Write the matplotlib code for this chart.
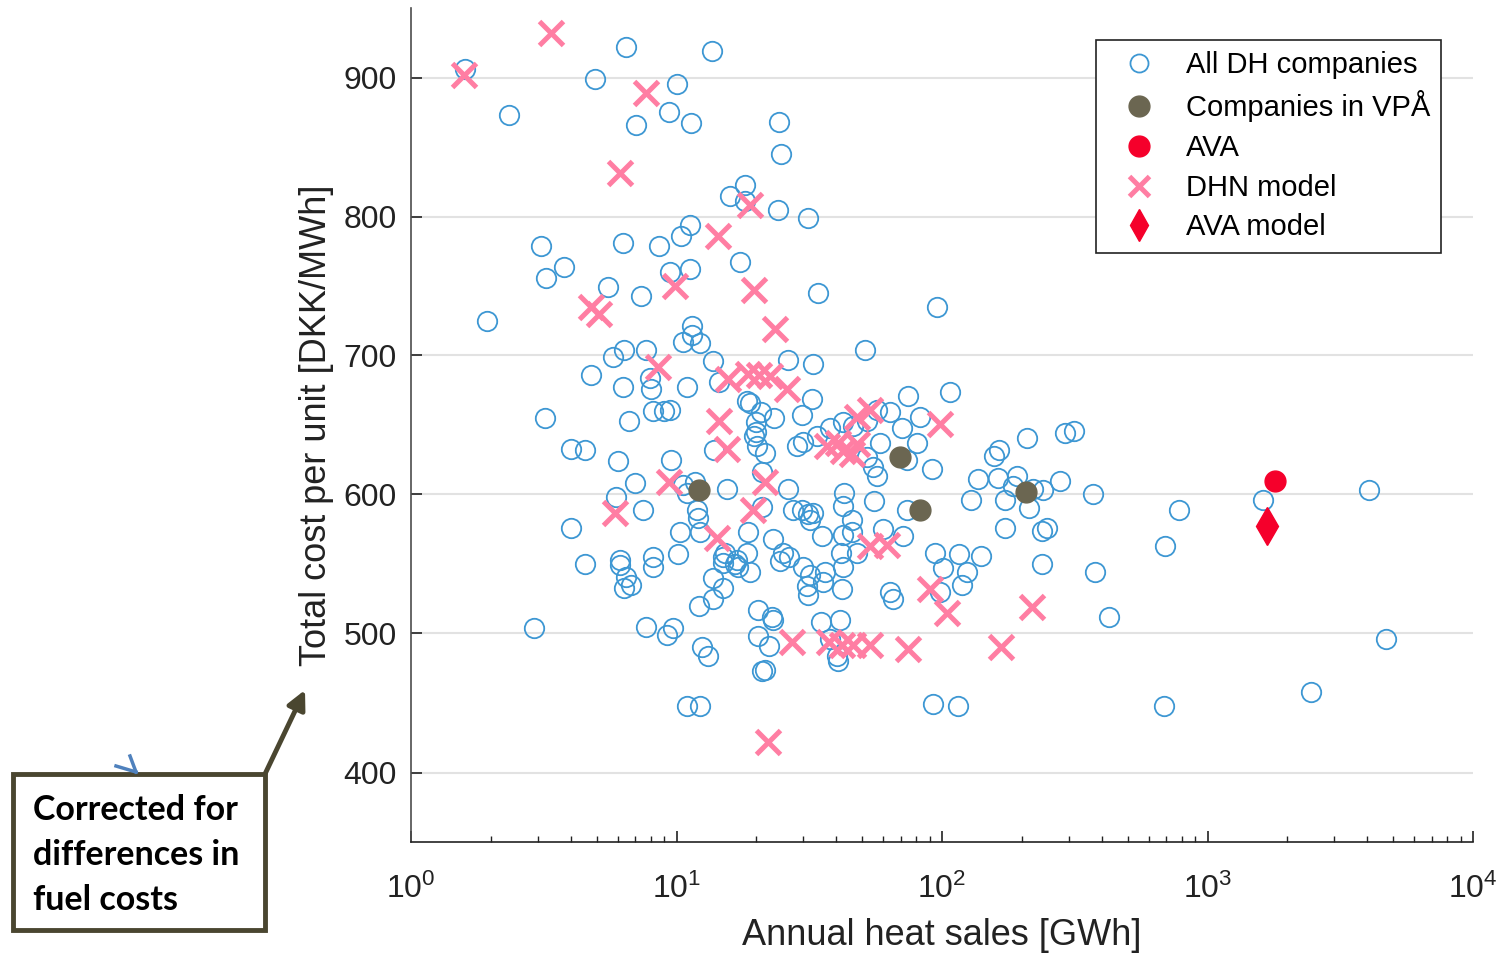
import matplotlib
matplotlib.use('Agg')
import matplotlib.pyplot as plt
from matplotlib.patches import Rectangle
from matplotlib.lines import Line2D

plt.rcParams['font.family'] = ['Liberation Sans', 'DejaVu Sans']
plt.rcParams['mathtext.default'] = 'regular'

# All DH companies: annual heat sales [GWh] and total cost per unit [DKK/MWh]
all_x = [1.60, 2.34, 4.93, 6.45, 7.03, 9.37, 10.0, 13.6, 11.3, 24.3, 24.8, 18.1, 15.9, 18.1,
         24.1, 31.3, 11.2, 10.4, 17.3, 11.2, 9.45, 3.09, 3.77, 3.22, 6.29, 8.59, 34.1, 5.52,
         7.35, 1.93, 11.4, 10.6, 11.4, 12.3, 5.76, 6.34, 7.67, 4.76, 7.95, 8.02, 6.29, 3.20,
         8.16, 8.97, 6.62, 4.01, 4.52, 6.02, 9.53, 6.98, 5.92, 7.48, 4.01, 4.52, 6.13, 6.13,
         6.45, 6.34, 6.74, 8.16, 8.16, 2.91, 7.67, 9.21, 9.70, 95.7, 51.3, 13.7, 26.3, 32.7,
         14.5, 11.0, 9.45, 18.4, 18.9, 20.8, 23.3, 32.4, 29.7, 13.8, 19.9, 19.9, 19.6, 20.1,
         21.5, 28.4, 37.8, 42.4, 46.2, 52.2, 56.9, 63.7, 74.5, 82.6, 70.7, 33.8, 30.0, 58.4,
         80.5, 73.8, 52.2, 55.0, 56.9, 55.5, 42.7, 42.4, 45.8, 91.7, 10.6, 11.7, 11.0, 15.5,
         21.0, 26.3, 21.0, 27.5, 29.7, 31.3, 32.7, 31.8, 73.8, 11.9, 12.1, 12.3, 10.3, 18.6,
         23.1, 35.3, 42.4, 45.8, 59.9, 71.3, 10.1, 15.2, 18.4, 16.9, 25.2, 26.5, 41.7, 47.8,
         94.1, 15.0, 15.0, 16.6, 17.0, 18.9, 13.7, 15.0, 13.7, 12.2, 24.5, 30.0, 31.8, 36.3,
         35.6, 31.0, 31.3, 42.4, 42.0, 63.7, 65.4, 101, 20.3, 22.9, 23.1, 20.3, 22.3, 35.0,
         41.3, 37.8, 40.2, 40.6, 21.0, 21.5, 12.5, 13.1, 11.0, 12.3, 92.5, 115, 107, 209,
         290, 314, 157, 164, 137, 163, 192, 185, 220, 240, 278, 371, 129, 173, 213, 781,
         173, 238, 249, 692, 116, 140, 124, 119, 98.3, 238, 377, 426, 686, 1618, 4058, 4700,
         2455]
all_y = [906, 873, 899, 922, 866, 875, 895, 919, 867, 868, 845, 823, 815, 811, 805, 799, 794,
         786, 767, 762, 760, 779, 764, 756, 781, 779, 745, 749, 743, 725, 721, 710, 715, 709,
         699, 704, 704, 686, 684, 676, 677, 655, 660, 660, 653, 633, 632, 624, 625, 608, 598,
         589, 576, 550, 553, 549, 541, 533, 535, 555, 548, 504, 505, 499, 504, 735, 704, 696,
         697, 694, 681, 677, 661, 667, 666, 659, 655, 669, 657, 632, 652, 645, 642, 635, 630,
         635, 648, 652, 649, 653, 661, 659, 671, 656, 648, 642, 638, 637, 637, 625, 627, 620,
         613, 595, 601, 592, 582, 618, 607, 609, 601, 604, 616, 604, 591, 589, 589, 586, 587,
         582, 589, 589, 583, 573, 573, 573, 568, 570, 571, 573, 575, 570, 557, 558, 558, 553,
         558, 555, 558, 558, 558, 555, 551, 550, 548, 544, 540, 533, 525, 520, 552, 548, 542,
         544, 537, 534, 528, 548, 532, 530, 525, 547, 517, 512, 510, 498, 491, 508, 510, 496,
         484, 480, 473, 474, 490, 484, 448, 448, 449, 448, 674, 641, 644, 646, 628, 632, 611,
         612, 613, 606, 604, 603, 610, 600, 596, 596, 590, 589, 576, 574, 576, 563, 557, 556,
         544, 535, 530, 550, 544, 512, 448, 596, 603, 496, 458]

# Companies in VPÅ
vpa_x = [12.2, 69.5, 82.6, 207]
vpa_y = [603, 627, 589, 602]

# AVA
ava_x = [1795]
ava_y = [610]

# DHN model
dhn_x = [1.58, 3.37, 7.67, 6.13, 4.76, 5.11, 9.87, 14.3, 18.9, 19.6, 23.5, 8.52, 15.6, 18.6,
         20.5, 22.5, 26.1, 14.5, 15.5, 47.8, 53.6, 98.3, 36.9, 40.6, 42.4, 47.8, 45.8, 9.37,
         21.5, 19.4, 5.87, 14.2, 53.6, 62.1, 90.1, 104, 218, 167, 27.2, 37.5, 42.0, 46.2,
         53.6, 74.5, 22.1]
dhn_y = [902, 932, 889, 831, 735, 730, 750, 786, 808, 747, 719, 692, 683, 687, 686, 685, 676,
         653, 633, 656, 661, 651, 635, 637, 631, 636, 629, 609, 609, 589, 587, 569, 563, 564,
         532, 515, 519, 490, 494, 494, 492, 492, 492, 489, 422]

# AVA model
avam_x = [1675]
avam_y = [577]

yticks = [400, 500, 600, 700, 800, 900]
note_lines = ['Corrected for', 'differences in', 'fuel costs']

W, H = 1501, 957
fig = plt.figure(figsize=(W / 100, H / 100), dpi=100)
ax = fig.add_axes([411 / W, 1 - 842 / H, (1473 - 411) / W, (842 - 8) / H])

blue = '#3d97d3'
pink = '#ff7ea3'
olive = '#6b6651'
red = '#f5002b'

ax.plot(all_x, all_y, 'o', ms=14, mfc='none', mec=blue, mew=1.3, ls='none',
        label='All DH companies', zorder=3)
ax.plot(vpa_x, vpa_y, 'o', ms=15, mfc=olive, mec=olive, ls='none',
        label='Companies in VPÅ', zorder=4)
ax.plot(ava_x, ava_y, 'o', ms=15, mfc=red, mec=red, ls='none', label='AVA', zorder=4)
ax.plot(dhn_x, dhn_y, 'x', ms=17, mec=pink, mew=3.6, ls='none', label='DHN model', zorder=5)
ax.plot(avam_x, avam_y, 'd', ms=19, mfc=red, mec=red, ls='none', label='AVA model', zorder=5)

ax.set_xscale('log')
ax.set_xlim(1, 1e4)
ax.set_ylim(350, 950)
ax.set_yticks(yticks)
ax.grid(axis='y', color='#e2e2e2', lw=1.5, zorder=0)
ax.set_axisbelow(True)

for s in ['top', 'right']:
    ax.spines[s].set_visible(False)
ax.spines['left'].set_color('#4d4d4d')
ax.spines['bottom'].set_color('#222222')
ax.spines['left'].set_linewidth(1.2)
ax.spines['bottom'].set_linewidth(1.2)

ax.tick_params(axis='both', which='major', direction='in', length=8, width=1.2,
               labelsize=23, colors='#222222', pad=10)
ax.tick_params(axis='x', which='minor', direction='in', length=4, width=1.0, colors='#222222')
ax.tick_params(axis='x', which='major', pad=23)

ax.set_xlabel('Annual heat sales [GWh]', fontsize=26, color='#222222', labelpad=9)
ax.set_ylabel('Total cost per unit [DKK/MWh]', fontsize=26, color='#222222', labelpad=7)

leg = ax.legend(loc='upper right', bbox_to_anchor=(0.970, 0.962), fontsize=21,
                frameon=True, fancybox=False, edgecolor='#222222', framealpha=1,
                borderpad=0.38, labelspacing=0.4, handletextpad=0.5, borderaxespad=0,
                handlelength=2.2)
leg.get_frame().set_linewidth(1.2)
for h in leg.legend_handles:
    lab = h.get_label()
    if lab == 'All DH companies':
        h.set_markersize(13)
    elif lab == 'AVA model':
        h.set_markersize(16)
    elif lab == 'DHN model':
        h.set_markersize(15)

# Annotation box
fx = lambda px: px / W
fy = lambda py: 1 - py / H
box = Rectangle((fx(13), fy(930)), (265 - 13) / W, (930 - 774) / H, transform=fig.transFigure,
                facecolor='white', edgecolor='#4a4630', lw=3.5, zorder=10)
fig.patches.append(box)
for i, line in enumerate(note_lines):
    fig.text(fx(33), fy(810 + 45 * i), line, fontsize=24.5, fontweight='bold',
             family=['Lato', 'DejaVu Sans'], color='black', ha='left', va='center', zorder=11)
ax.annotate('', xy=(fx(305), fy(690)), xycoords='figure fraction',
            xytext=(fx(265), fy(774)), textcoords='figure fraction',
            arrowprops=dict(arrowstyle='-|>', color='#4a4630', lw=3.5, mutation_scale=28,
                            shrinkA=0, shrinkB=0), annotation_clip=False)
# small blue chevron
fig.lines.append(Line2D([fx(116), fx(136)], [fy(766), fy(772)], transform=fig.transFigure,
                        color='#4f81bd', lw=2.5, zorder=12))
fig.lines.append(Line2D([fx(130), fx(136)], [fy(756), fy(772)], transform=fig.transFigure,
                        color='#4f81bd', lw=2.5, zorder=12))

fig.savefig('out.png', dpi=100)
